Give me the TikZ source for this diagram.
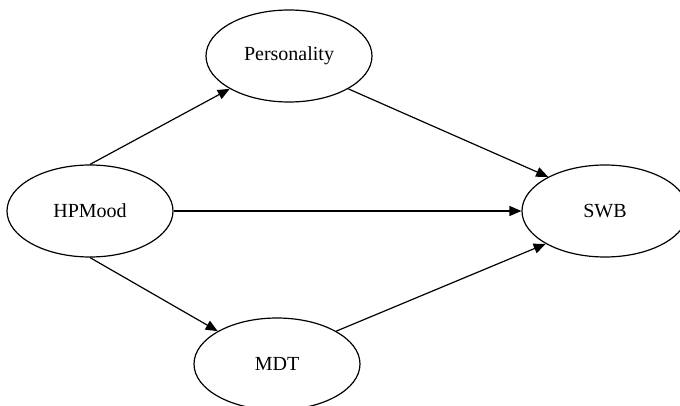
\documentclass[tikz,border=0pt]{standalone}
\usepackage{fontspec}
\setmainfont{Liberation Serif}
\usetikzlibrary{shapes.geometric,arrows.meta}

\begin{document}
\begin{tikzpicture}[x=0.5pt,y=-0.5pt,>={Triangle[length=6pt,width=5pt]},
  var/.style={draw,ellipse,line width=0.6pt,minimum width=83pt,minimum height=46pt,inner sep=0pt,font=\fontsize{10}{12}\selectfont},
  freccia/.style={->,line width=0.6pt}]

\clip (0,0) rectangle (680,406);

% --- Variabili ---
\node[var] (hpmood) at (90,211) {HPMood};
\node[var] (pers) at (289,56) {Personality};
\node[var] (swb) at (605,211) {SWB};
\node[var] (mdt) at (277,364) {MDT};

% Percorsi
\draw[freccia] (hpmood.north) -- (pers.209);
\draw[freccia] (pers.331) -- (swb.149);
\draw[freccia] (hpmood.east) -- (swb.west);
\draw[freccia] (hpmood.south) -- (mdt.151);
\draw[freccia] (mdt.29) -- (swb.209);

\end{tikzpicture}
\end{document}
